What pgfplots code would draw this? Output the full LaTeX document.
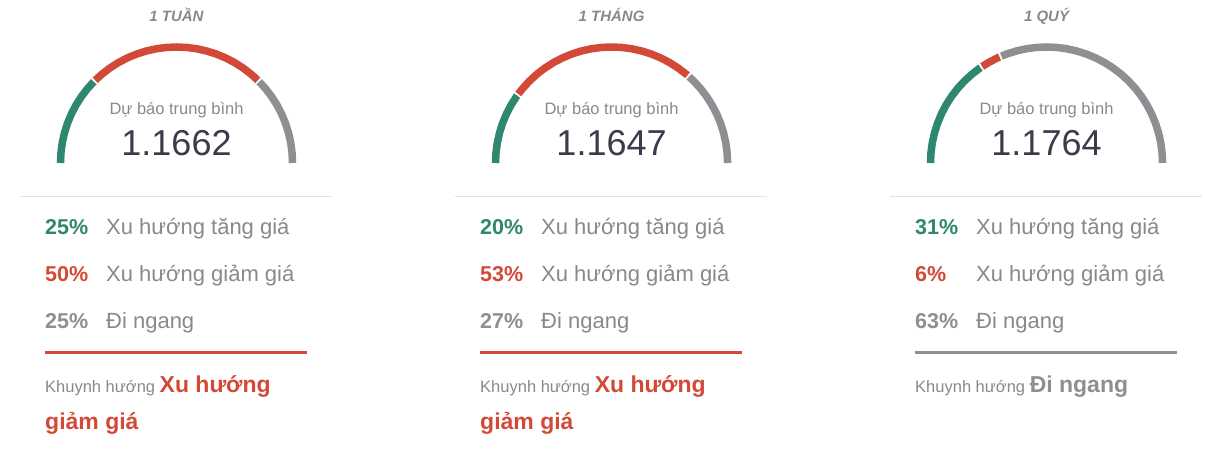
\documentclass[border=0pt]{standalone}
\usepackage{pgfplots}
\pgfplotsset{compat=1.18}
\usepackage{fontspec}
\setmainfont{Liberation Sans}

\definecolor{upgreen}{HTML}{2F8770}
\definecolor{downred}{HTML}{D24A37}
\definecolor{flatgrey}{HTML}{8E8E93}
\definecolor{txtgrey}{HTML}{88888D}
\definecolor{valdark}{HTML}{3B3B4A}
\definecolor{sepgrey}{HTML}{E2E2E2}

\newcommand{\fs}[1]{\fontsize{#1}{#1}\selectfont}

% common look of one panel: 1 axis unit = 1pt, origin at gauge centre
\pgfplotsset{
  panel/.style={
    at={(0,0)}, anchor=south west,
    width=1206pt, height=461pt, scale only axis,
    hide axis, clip=false,
    ymin=-298, ymax=163,
  },
  arc/.style={line width=7.5pt, data cs=polar},
}

\begin{document}
\begin{tikzpicture}
\path[use as bounding box] (0,0) rectangle (1206pt,461pt);

% ---------- 1 TUAN ----------
\begin{axis}[panel, xmin=-176.5, xmax=1029.5]
  \addplot[arc, draw=upgreen] coordinates {(180,116) (175,116) (170,116) (165,116) (160,116) (155,116) (150,116) (145,116) (140,116) (135.5,116)};
  \addplot[arc, draw=downred] coordinates {(134.5,116) (130,116) (125,116) (120,116) (115,116) (110,116) (105,116) (100,116) (95,116) (90,116) (85,116) (80,116) (75,116) (70,116) (65,116) (60,116) (55,116) (50,116) (45.5,116)};
  \addplot[arc, draw=flatgrey] coordinates {(44.5,116) (40,116) (35,116) (30,116) (25,116) (20,116) (15,116) (10,116) (5,116) (0,116)};
  \node[anchor=base, font=\fs{15}\bfseries\itshape, text=txtgrey] at (0,141) {1 TUẦN};
  \node[anchor=base, font=\fs{16.5}, text=txtgrey] at (0,48) {Dự báo trung bình};
  \node[anchor=base, font=\fs{36}, text=valdark] at (0,7) {1.1662};
  \draw[sepgrey, line width=1pt] (-156.5,-34) -- (155.5,-34);
  \node[anchor=base west, inner sep=0, font=\fs{21.5}\bfseries, text=upgreen] at (-131.5,-72) {25\%};
  \node[anchor=base west, inner sep=0, font=\fs{22}, text=txtgrey] at (-70.5,-72) {Xu hướng tăng giá};
  \node[anchor=base west, inner sep=0, font=\fs{21.5}\bfseries, text=downred] at (-131.5,-118.5) {50\%};
  \node[anchor=base west, inner sep=0, font=\fs{22}, text=txtgrey] at (-70.5,-118.5) {Xu hướng giảm giá};
  \node[anchor=base west, inner sep=0, font=\fs{21.5}\bfseries, text=flatgrey] at (-131.5,-165) {25\%};
  \node[anchor=base west, inner sep=0, font=\fs{22}, text=txtgrey] at (-70.5,-165) {Đi ngang};
  \draw[downred, line width=3pt] (-131.5,-189.5) -- (130,-189.5);
  \node[anchor=base west, inner sep=0, font=\fs{16.5}, text=txtgrey] at (-131.5,-229) {Khuynh hướng {\fs{23}\bfseries\color{downred}Xu hướng}};
  \node[anchor=base west, inner sep=0, font=\fs{23}\bfseries, text=downred] at (-131.5,-266) {giảm giá};
\end{axis}

% ---------- 1 THANG ----------
\begin{axis}[panel, xmin=-611.5, xmax=594.5]
  \addplot[arc, draw=upgreen] coordinates {(180,116) (175,116) (170,116) (165,116) (160,116) (155,116) (150,116) (145,116) (144.5,116)};
  \addplot[arc, draw=downred] coordinates {(143.5,116) (140,116) (135,116) (130,116) (125,116) (120,116) (115,116) (110,116) (105,116) (100,116) (95,116) (90,116) (85,116) (80,116) (75,116) (70,116) (65,116) (60,116) (55,116) (50,116) (49.1,116)};
  \addplot[arc, draw=flatgrey] coordinates {(48.1,116) (45,116) (40,116) (35,116) (30,116) (25,116) (20,116) (15,116) (10,116) (5,116) (0,116)};
  \node[anchor=base, font=\fs{15}\bfseries\itshape, text=txtgrey] at (0,141) {1 THÁNG};
  \node[anchor=base, font=\fs{16.5}, text=txtgrey] at (0,48) {Dự báo trung bình};
  \node[anchor=base, font=\fs{36}, text=valdark] at (0,7) {1.1647};
  \draw[sepgrey, line width=1pt] (-156.5,-34) -- (155.5,-34);
  \node[anchor=base west, inner sep=0, font=\fs{21.5}\bfseries, text=upgreen] at (-131.5,-72) {20\%};
  \node[anchor=base west, inner sep=0, font=\fs{22}, text=txtgrey] at (-70.5,-72) {Xu hướng tăng giá};
  \node[anchor=base west, inner sep=0, font=\fs{21.5}\bfseries, text=downred] at (-131.5,-118.5) {53\%};
  \node[anchor=base west, inner sep=0, font=\fs{22}, text=txtgrey] at (-70.5,-118.5) {Xu hướng giảm giá};
  \node[anchor=base west, inner sep=0, font=\fs{21.5}\bfseries, text=flatgrey] at (-131.5,-165) {27\%};
  \node[anchor=base west, inner sep=0, font=\fs{22}, text=txtgrey] at (-70.5,-165) {Đi ngang};
  \draw[downred, line width=3pt] (-131.5,-189.5) -- (130,-189.5);
  \node[anchor=base west, inner sep=0, font=\fs{16.5}, text=txtgrey] at (-131.5,-229) {Khuynh hướng {\fs{23}\bfseries\color{downred}Xu hướng}};
  \node[anchor=base west, inner sep=0, font=\fs{23}\bfseries, text=downred] at (-131.5,-266) {giảm giá};
\end{axis}

% ---------- 1 QUY ----------
\begin{axis}[panel, xmin=-1046.5, xmax=159.5]
  \addplot[arc, draw=upgreen] coordinates {(180,116) (175,116) (170,116) (165,116) (160,116) (155,116) (150,116) (145,116) (140,116) (135,116) (130,116) (125,116) (124.7,116)};
  \addplot[arc, draw=downred] coordinates {(123.7,116) (120,116) (115,116) (113.9,116)};
  \addplot[arc, draw=flatgrey] coordinates {(112.9,116) (110,116) (105,116) (100,116) (95,116) (90,116) (85,116) (80,116) (75,116) (70,116) (65,116) (60,116) (55,116) (50,116) (45,116) (40,116) (35,116) (30,116) (25,116) (20,116) (15,116) (10,116) (5,116) (0,116)};
  \node[anchor=base, font=\fs{15}\bfseries\itshape, text=txtgrey] at (0,141) {1 QUÝ};
  \node[anchor=base, font=\fs{16.5}, text=txtgrey] at (0,48) {Dự báo trung bình};
  \node[anchor=base, font=\fs{36}, text=valdark] at (0,7) {1.1764};
  \draw[sepgrey, line width=1pt] (-156.5,-34) -- (155.5,-34);
  \node[anchor=base west, inner sep=0, font=\fs{21.5}\bfseries, text=upgreen] at (-131.5,-72) {31\%};
  \node[anchor=base west, inner sep=0, font=\fs{22}, text=txtgrey] at (-70.5,-72) {Xu hướng tăng giá};
  \node[anchor=base west, inner sep=0, font=\fs{21.5}\bfseries, text=downred] at (-131.5,-118.5) {6\%};
  \node[anchor=base west, inner sep=0, font=\fs{22}, text=txtgrey] at (-70.5,-118.5) {Xu hướng giảm giá};
  \node[anchor=base west, inner sep=0, font=\fs{21.5}\bfseries, text=flatgrey] at (-131.5,-165) {63\%};
  \node[anchor=base west, inner sep=0, font=\fs{22}, text=txtgrey] at (-70.5,-165) {Đi ngang};
  \draw[flatgrey, line width=3pt] (-131.5,-189.5) -- (130,-189.5);
  \node[anchor=base west, inner sep=0, font=\fs{16.5}, text=txtgrey] at (-131.5,-229) {Khuynh hướng {\fs{23}\bfseries\color{flatgrey}Đi ngang}};
\end{axis}
\end{tikzpicture}
\end{document}
